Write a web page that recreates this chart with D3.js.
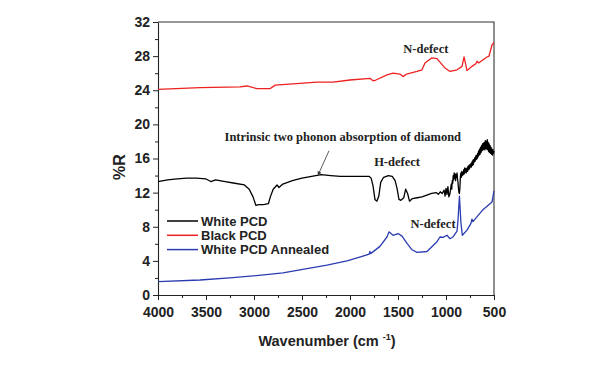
<!DOCTYPE html>
<html>
<head>
<meta charset="utf-8">
<script src="https://cdn.jsdelivr.net/npm/d3@7"></script>
<style>
  html, body { margin: 0; padding: 0; background: #fff; }
  svg { display: block; }
</style>
</head>
<body>
<svg id="chart" width="614" height="365"></svg>
<script>
// ---------- data ----------
const xTicks = [4000, 3500, 3000, 2500, 2000, 1500, 1000, 500];
const yTicks = [0, 4, 8, 12, 16, 20, 24, 28, 32];
const seriesNames = ["White PCD", "Black PCD", "White PCD Annealed"];
const seriesColors = ["#000000", "#ee2020", "#2b3cb0"];

// White PCD (black curve)
const whiteWn = [4000,3900,3800,3700,3600,3500,3450,3400,3300,3200,3100,3050,3010,2980,2950,2900,2850,2830,2800,2760,2740,2700,2600,2500,2400,2300,2200,2100,2000,1900,1800,1780,1760,1740,1720,1700,1680,1650,1600,1560,1530,1510,1490,1470,1440,1420,1400,1380,1350,1300,1250,1200,1150,1100,1080,1060,1040,1020,1010,1000,990,980,970,
  960,950,945,940,935,930,925,920,915,910,905,900,895,890,885,880,875,870,865,860,855,850,845,840,835,830,825,820,815,810,805,800,795,790,785,780,775,770,765,760,755,750,745,740,735,730,725,720,715,710,705,700,695,690,685,680,675,670,665,660,655,650,645,640,635,630,625,620,615,610,605,600,595,590,585,580,575,570,565,560,555,550,545,540,535,530,525,520,515,510,505,500];
const whiteR = [13.3,13.5,13.6,13.7,13.7,13.6,13.3,13.5,13.3,13.1,12.9,12.4,11.5,10.5,10.6,10.6,10.7,11.5,12.4,12.9,12.6,13.0,13.4,13.7,13.9,14.1,14.0,13.9,13.9,13.9,13.9,13.7,12.8,11.2,11.0,11.6,13.2,13.8,14.0,13.9,13.4,12.5,11.2,11.1,11.4,12.4,11.9,11.0,11.3,11.4,11.5,11.7,11.9,12.0,11.8,12.1,11.9,12.3,11.6,12.5,11.8,12.7,11.5,
  11.8,12.6,13.0,12.4,13.4,13.1,14.0,13.5,14.3,13.7,14.2,13.4,14.1,13.8,14.3,13.6,13.2,12.5,12.0,11.9,12.6,13.9,14.3,13.8,14.5,14.0,14.4,14.1,14.7,14.2,14.9,14.4,14.8,14.3,14.6,14.9,14.5,15.1,14.7,15.2,14.8,15.3,15.0,15.4,15.0,15.6,15.2,15.8,15.3,15.9,15.6,16.1,15.7,16.3,15.9,16.4,16.0,16.6,16.2,16.9,16.4,17.1,16.5,17.3,16.7,17.5,16.9,17.7,17.0,17.8,17.1,17.9,17.0,18.1,17.2,18.0,17.1,18.2,17.0,17.9,16.8,17.7,16.7,17.5,16.6,17.3,16.5,17.1,16.4,17.0,16.6,16.9];

// Black PCD (red curve)
const blackWn = [4000,3560,3146,3073,2970,2830,2780,2520,2345,2177,2000,1792,1760,1730,1615,1550,1480,1448,1410,1302,1250,1219,1146,1094,1063,1010,958,885,833,812,781,729,690,677,660,573,552,521,500];
const blackR = [24.1,24.3,24.4,24.5,24.2,24.2,24.6,24.8,24.95,24.95,25.2,25.4,25.1,25.2,25.8,26.0,25.9,25.6,25.9,26.2,26.4,27.2,27.8,27.7,27.3,26.6,26.2,26.4,26.8,27.9,26.3,26.8,27.1,27.4,27.2,27.9,28.0,29.3,29.6];

// White PCD Annealed (blue curve)
const annealWn = [4000,3562,3219,3010,2698,2448,2240,2031,1865,1800,1792,1785,1688,1615,1594,1552,1500,1458,1406,1354,1302,1198,1094,1063,1031,990,958,927,885,875,860,845,830,781,740,730,719,615,521,500];
const annealR = [1.56,1.76,2.03,2.23,2.6,3.1,3.5,4.0,4.57,4.8,5.1,4.85,5.7,6.8,7.4,7.0,7.2,6.9,6.05,5.3,5.0,5.1,6.25,6.8,6.75,7.0,6.6,6.8,7.5,8.8,11.6,8.5,7.0,7.6,8.4,8.9,8.6,10.0,10.9,12.2];

// annotation texts
const notes = [
  { text: "N-defect", wn: 1210, r: 28.4 },
  { text: "Intrinsic two phonon absorption of diamond", wn: 2075, r: 18.0 },
  { text: "H-defect", wn: 1510, r: 15.1 },
  { text: "N-defect", wn: 1135, r: 7.85 }
];

// ---------- layout ----------
const svg = d3.select("#chart");
const L = 158, R = 494, T = 22, B = 295;
const x = d3.scaleLinear().domain([4000, 500]).range([L, R]);
const y = d3.scaleLinear().domain([0, 32]).range([B, T]);

const sansBold = "'Liberation Sans', Arial, sans-serif";
const serif = "'Liberation Serif', 'Times New Roman', serif";

// frame (top and right)
svg.append("path")
  .attr("d", `M${L},${T}H${R}V${B}`)
  .attr("fill", "none").attr("stroke", "#333").attr("stroke-width", 1.1);

// minor ticks
const xMinor = d3.range(3750, 500, -500);
const yMinor = d3.range(2, 32, 4);
svg.append("g").attr("transform", `translate(0,${B})`)
  .call(d3.axisBottom(x).tickValues(xMinor).tickSize(3).tickFormat(""))
  .call(g => g.select(".domain").remove())
  .call(g => g.selectAll("line").attr("stroke", "#222"));
svg.append("g").attr("transform", `translate(${L},0)`)
  .call(d3.axisLeft(y).tickValues(yMinor).tickSize(3).tickFormat(""))
  .call(g => g.select(".domain").remove())
  .call(g => g.selectAll("line").attr("stroke", "#222"));

// major axes
const xAxis = svg.append("g").attr("transform", `translate(0,${B})`)
  .call(d3.axisBottom(x).tickValues(xTicks).tickSize(5).tickSizeOuter(0).tickPadding(7).tickFormat(d3.format("d")));
const yAxis = svg.append("g").attr("transform", `translate(${L},0)`)
  .call(d3.axisLeft(y).tickValues(yTicks).tickSize(5).tickSizeOuter(0).tickPadding(3).tickFormat(d3.format("d")));
[xAxis, yAxis].forEach(g => {
  g.select(".domain").attr("stroke", "#222").attr("stroke-width", 1.1);
  g.selectAll("line").attr("stroke", "#222");
  g.selectAll("text").attr("font-family", sansBold).attr("font-weight", "bold")
    .attr("font-size", 14).attr("fill", "#222");
});

// axis titles
const xt = svg.append("text")
  .attr("x", 327).attr("y", 346).attr("text-anchor", "middle")
  .attr("font-family", sansBold).attr("font-weight", "bold").attr("font-size", 14.5).attr("fill", "#222");
xt.append("tspan").text("Wavenumber (cm ");
xt.append("tspan").attr("dy", -6).attr("font-size", 9).text("-1");
xt.append("tspan").attr("dy", 6).text(")");

svg.append("text")
  .attr("transform", "translate(125,167) rotate(-90)")
  .attr("text-anchor", "middle")
  .attr("font-family", sansBold).attr("font-weight", "bold").attr("font-size", 16).attr("fill", "#222")
  .text("%R");

// curves
const line = d3.line().x(d => x(d[0])).y(d => y(d[1]));
const series = [
  d3.zip(whiteWn, whiteR),
  d3.zip(blackWn, blackR),
  d3.zip(annealWn, annealR)
];
// draw order: blue, black, red
[2, 0, 1].forEach(i => {
  svg.append("path").datum(series[i])
    .attr("d", line).attr("fill", "none")
    .attr("stroke", seriesColors[i]).attr("stroke-width", 1.3)
    .attr("stroke-linejoin", "round");
});

// legend
const lg = svg.append("g");
seriesNames.forEach((n, i) => {
  const yy = 221 + i * 14.3;
  lg.append("line").attr("x1", 167).attr("x2", 198).attr("y1", yy).attr("y2", yy)
    .attr("stroke", seriesColors[i]).attr("stroke-width", 1.5);
  lg.append("text").attr("x", 201).attr("y", yy + 4.8)
    .attr("font-family", sansBold).attr("font-weight", "bold").attr("font-size", 13).attr("fill", "#222")
    .text(n);
});

// annotations
notes.forEach(n => {
  svg.append("text").attr("x", x(n.wn)).attr("y", y(n.r)).attr("text-anchor", "middle")
    .attr("font-family", serif).attr("font-weight", "bold").attr("font-size", 12.5).attr("fill", "#222")
    .text(n.text);
});
// arrow line for the intrinsic absorption note
svg.append("line")
  .attr("x1", x(2219)).attr("y1", y(16.9))
  .attr("x2", x(2323)).attr("y2", y(14.3))
  .attr("stroke", "#333").attr("stroke-width", 0.8);
svg.append("path")
  .attr("d", d3.symbol(d3.symbolTriangle, 8)())
  .attr("transform", `translate(${x(2323)},${y(14.3)}) rotate(202)`)
  .attr("fill", "#333");
</script>
</body>
</html>
